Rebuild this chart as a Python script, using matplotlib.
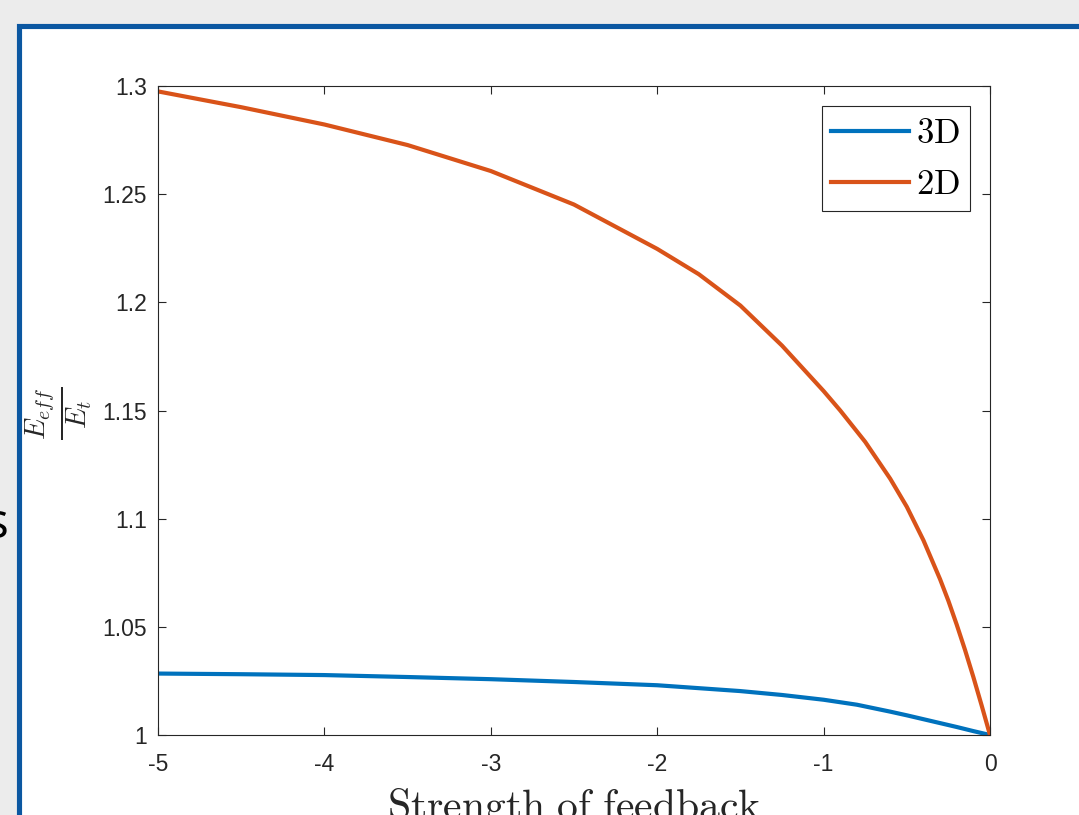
import matplotlib.pyplot as plt
from matplotlib.patches import Rectangle

plt.rcParams['mathtext.fontset'] = 'cm'
plt.rcParams['axes.unicode_minus'] = False

# values
fb_3d = [-5, -4.5, -4, -3.5, -3, -2.5, -2, -1.5, -1.25, -1, -0.8, -0.6, -0.5, -0.4, -0.3, -0.2, -0.1, 0]
ratio_3d = [1.0284, 1.0281, 1.0277, 1.0268, 1.0258, 1.0245, 1.0230, 1.0203, 1.0185, 1.0163, 1.0140, 1.0108,
            1.0091, 1.0073, 1.0055, 1.0037, 1.0018, 1.0]
fb_2d = [-5, -4.5, -4, -3.5, -3, -2.5, -2, -1.75, -1.5, -1.25, -1, -0.9, -0.75, -0.6, -0.5, -0.4, -0.3,
         -0.25, -0.2, -0.15, -0.1, -0.05, 0]
ratio_2d = [1.2975, 1.2902, 1.2822, 1.2727, 1.2607, 1.2452, 1.2247, 1.2130, 1.1985, 1.1800, 1.1590, 1.1500,
            1.1355, 1.1185, 1.1055, 1.0900, 1.0720, 1.0620, 1.0510, 1.0393, 1.0268, 1.0136, 1.0]

xticks = [-5, -4, -3, -2, -1, 0]
xlabels = ['-5', '-4', '-3', '-2', '-1', '0']
yticks = [1, 1.05, 1.1, 1.15, 1.2, 1.25, 1.3]
ylabels = ['1', '1.05', '1.1', '1.15', '1.2', '1.25', '1.3']

W, H = 1079, 815
fig = plt.figure(figsize=(W / 100, H / 100), dpi=100, facecolor='#ececec')

# white page panel with blue frame, kept behind the axes
fig.patches.append(Rectangle((18.5 / W, -0.2), 1.2, 1.2 - 25.5 / H, transform=fig.transFigure,
                             facecolor='white', edgecolor='#0b57a1', linewidth=3.7, zorder=-5))

ax = fig.add_axes([158 / W, 80 / H, 832 / W, 649 / H])
ax.set_zorder(2)
ax.plot(fb_3d, ratio_3d, color='#0072BD', lw=3, label=r'$\mathrm{3D}$')
ax.plot(fb_2d, ratio_2d, color='#D95319', lw=3, label=r'$\mathrm{2D}$')

ax.set_xlim(-5, 0)
ax.set_ylim(1, 1.3)
ax.set_xticks(xticks, xlabels)
ax.set_yticks(yticks, ylabels)
ax.tick_params(direction='in', length=6, width=0.8, color='#262626', labelcolor='#262626',
               labelsize=16.5, top=True, right=True)
ax.tick_params(axis='x', pad=13)
ax.tick_params(axis='y', pad=8)
for lab in ax.get_xticklabels() + ax.get_yticklabels():
    lab.set_fontfamily('Liberation Sans')
for s in ax.spines.values():
    s.set_color('#262626')
    s.set_linewidth(0.8)

leg = ax.legend(loc='upper right', bbox_to_anchor=(0.976, 0.969), fontsize=25, frameon=True,
                fancybox=False, edgecolor='#262626', framealpha=1, handlelength=2.25,
                handletextpad=0.2, labelspacing=0.5, borderpad=0.28, borderaxespad=0)
leg.get_frame().set_linewidth(0.8)

fig.text(60 / W, 1 - 413 / H, r'$\frac{E_{eff}}{E_t}$', rotation=90, ha='center', va='center',
         fontsize=29, color='#262626')
fig.text(574 / W, 1 - 786 / H, r'$\mathrm{Strength\ of\ feedback}$', ha='center', va='top',
         fontsize=30, color='#262626')
fig.text(8 / W, 1 - 525 / H, 's', ha='right', va='center', fontsize=36, family='Open Sans', color='black')

fig.savefig('out.png', dpi=100, facecolor=fig.get_facecolor())
